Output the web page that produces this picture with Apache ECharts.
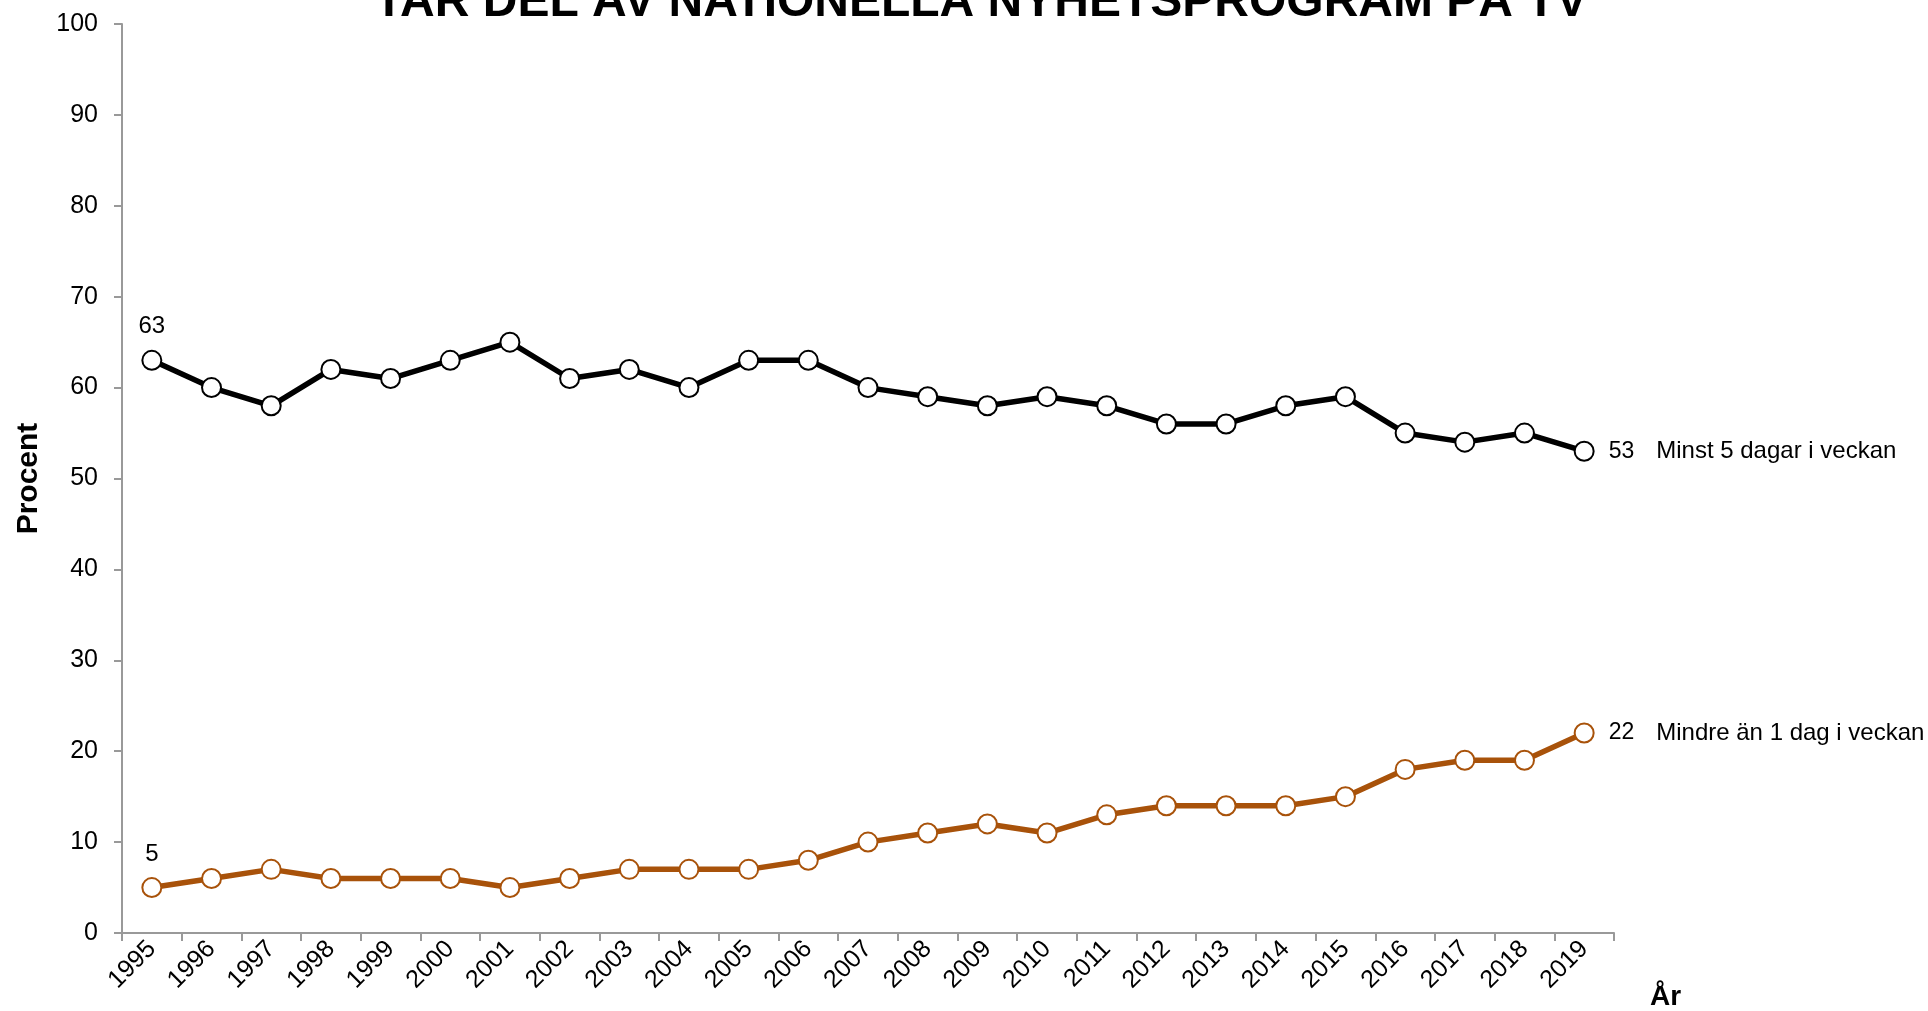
<!DOCTYPE html>
<html>
<head>
<meta charset="utf-8">
<title>Tar del av nationella nyhetsprogram på TV</title>
<script src="https://cdn.jsdelivr.net/npm/echarts@6/dist/echarts.min.js"></script>
<style>
  html, body { margin: 0; padding: 0; background: #fff; }
  #chart { width: 1928px; height: 1011px; }
</style>
</head>
<body>
<div id="chart"></div>
<script>
// years on the x axis
const years = ["1995", "1996", "1997", "1998", "1999", "2000", "2001", "2002", "2003", "2004",
  "2005", "2006", "2007", "2008", "2009", "2010", "2011", "2012", "2013", "2014",
  "2015", "2016", "2017", "2018", "2019"]
// Minst 5 dagar i veckan
const minst5 = [63, 60, 58, 62, 61, 63, 65, 61, 62, 60, 63, 63, 60, 59, 58, 59, 58, 56, 56, 58, 59, 55, 54, 55, 53]
// Mindre än 1 dag i veckan
const mindre1 = [5, 6, 7, 6, 6, 6, 5, 6, 7, 7, 7, 8, 10, 11, 12, 11, 13, 14, 14, 14, 15, 18, 19, 19, 22]
const seriesNames = ["Minst 5 dagar i veckan", "Mindre än 1 dag i veckan"]
const yTicks = [0, 10, 20, 30, 40, 50, 60, 70, 80, 90, 100]

const FONT = "Liberation Sans, Arial, sans-serif"
const last = years.length - 1

// label for first point (value) and last point (value + series name)
const makeLabel = (name) => ({
  show: true,
  fontFamily: FONT,
  fontSize: 24,
  color: "#000",
  formatter: (p) => {
    if (p.dataIndex === 0) return String(p.value)
    if (p.dataIndex === last) return "{v|" + p.value + "}{n|" + name + "}"
    return ""
  },
  rich: {
    v: { fontFamily: FONT, fontSize: 23, color: "#000" },
    n: { fontFamily: FONT, fontSize: 24, color: "#000", padding: [0, 0, 0, 22] },
  },
})

const buildData = (values) => values.map((v, i) => {
  if (i === 0) return { value: v, label: { position: "top", distance: 11 } }
  if (i === last) return { value: v, label: { position: "right", distance: 14 } }
  return v
})

const chart = echarts.init(document.getElementById("chart"))
const option = {
  animation: false,
  backgroundColor: "#fff",
  title: {
    text: "TAR DEL AV NATIONELLA NYHETSPROGRAM PÅ TV",
    left: 976,
    textAlign: "center",
    top: -26,
    textStyle: {
      fontFamily: FONT,
      fontSize: 48,
      fontWeight: "bold",
      color: "#000",
    },
  },
  grid: {
    left: 122,
    right: 314,
    top: 24,
    bottom: 75,
    containLabel: false,
  },
  xAxis: {
    type: "category",
    data: years,
    boundaryGap: true,
    name: "År",
    nameLocation: "end",
    nameGap: 36,
    nameTextStyle: {
      fontFamily: FONT,
      fontSize: 28,
      fontWeight: "bold",
      color: "#000",
      verticalAlign: "top",
      padding: [50, 0, 0, 0],
    },
    axisLine: { lineStyle: { color: "#999", width: 2 } },
    axisTick: { show: true, length: 8, lineStyle: { color: "#999", width: 2 } },
    axisLabel: {
      rotate: 45,
      interval: 0,
      margin: 12,
      fontFamily: FONT,
      fontSize: 25,
      color: "#000",
    },
    splitLine: { show: false },
  },
  yAxis: {
    type: "value",
    min: yTicks[0],
    max: yTicks[yTicks.length - 1],
    interval: 10,
    name: "Procent",
    nameLocation: "middle",
    nameRotate: 90,
    nameGap: 78,
    nameTextStyle: {
      fontFamily: FONT,
      fontSize: 30,
      fontWeight: "bold",
      color: "#000",
    },
    axisLine: { show: true, lineStyle: { color: "#999", width: 2 } },
    axisTick: { show: true, length: 8, lineStyle: { color: "#999", width: 2 } },
    axisLabel: {
      margin: 24,
      fontFamily: FONT,
      fontSize: 25,
      color: "#000",
    },
    splitLine: { show: false },
  },
  series: [
    {
      name: seriesNames[0],
      type: "line",
      data: buildData(minst5),
      symbol: "circle",
      symbolSize: 19,
      showAllSymbol: true,
      lineStyle: { color: "#000", width: 5.5 },
      itemStyle: { color: "#fff", borderColor: "#000", borderWidth: 2 },
      label: makeLabel(seriesNames[0]),
      z: 3,
    },
    {
      name: seriesNames[1],
      type: "line",
      data: buildData(mindre1),
      symbol: "circle",
      symbolSize: 19,
      showAllSymbol: true,
      lineStyle: { color: "#A8520A", width: 5.5 },
      itemStyle: { color: "#fff", borderColor: "#A8520A", borderWidth: 2 },
      label: makeLabel(seriesNames[1]),
      z: 2,
    },
  ],
}
chart.setOption(option)
</script>
</body>
</html>
